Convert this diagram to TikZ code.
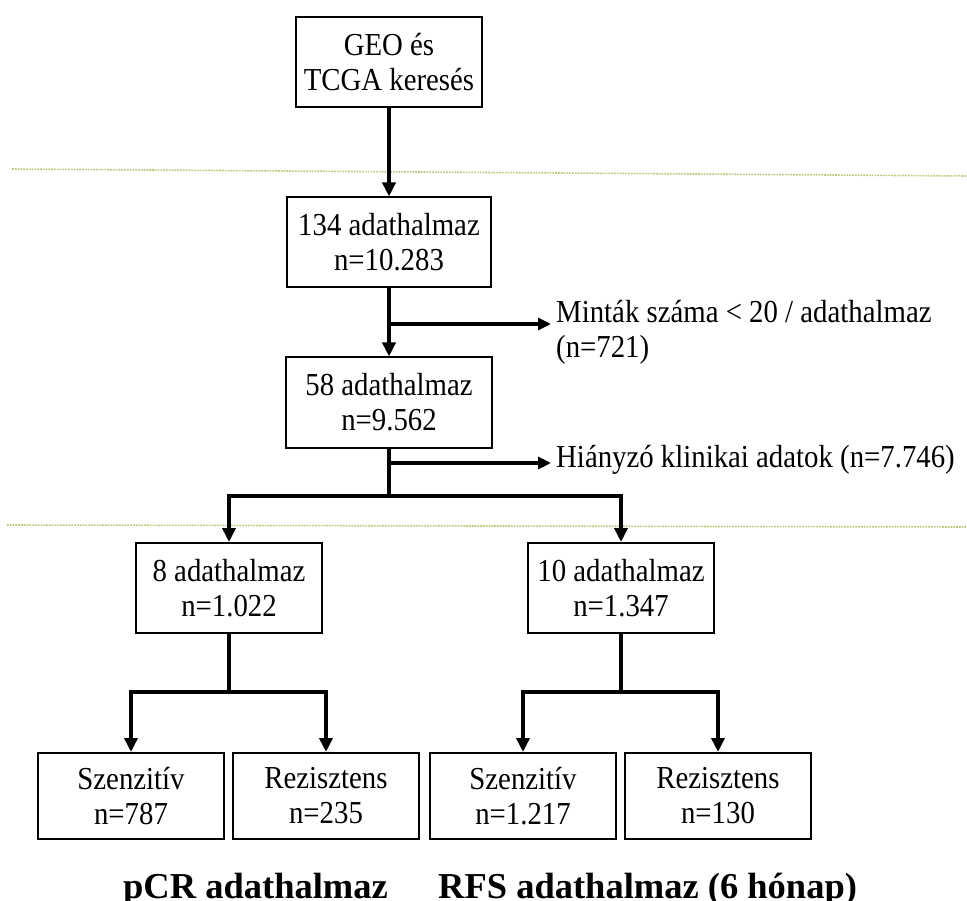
\documentclass[tikz,border=0pt]{standalone}
\usepackage{fontspec}
\setmainfont{Liberation Serif}[FakeStretch=0.9]
\newfontfamily\titlefont{Liberation Serif}
\usetikzlibrary{arrows.meta}
\definecolor{guidegreen}{RGB}{186,206,130}
\tikzset{
  box/.style={draw, line width=2pt, minimum width=186pt, minimum height=90pt,
    inner sep=0pt, align=center, font=\fontsize{32}{35}\selectfont},
  smallbox/.style={box, minimum height=86pt},
  note/.style={inner sep=0pt, align=left, font=\fontsize{32}{35}\selectfont},
  title/.style={inner sep=0pt, font=\titlefont\bfseries\fontsize{36.5}{40}\selectfont},
  conn/.style={line width=4pt},
  arr/.style={conn, -{Triangle[length=14pt,width=13pt]}},
  sidearr/.style={line width=3.2pt, -{Triangle[length=13pt,width=12pt]}},
  guide/.style={guidegreen, line width=1.6pt, dash pattern=on 1.8pt off 1pt}
}
\begin{document}
\begin{tikzpicture}[x=1pt, y=-1pt]
  \useasboundingbox (0,0) rectangle (967,901);

  % section separators
  \draw[guide] (12,169) -- (967,176);
  \draw[guide] (7,525) -- (967,527);

  % main chain
  \node[box] (geo) at (389,62) {GEO és\\TCGA keresés};
  \node[box, minimum width=204pt] (all) at (389,242.5) {134 adathalmaz\\n=10.283};
  \node[box, minimum width=206pt] (kept) at (389,402.5) {58 adathalmaz\\n=9.562};

  % the two branches
  \node[box] (pcr) at (229,588) {8 adathalmaz\\n=1.022};
  \node[box] (rfs) at (621,588) {10 adathalmaz\\n=1.347};

  % leaf boxes
  \node[smallbox] (pcrs) at (131,796) {Szenzitív\\n=787};
  \node[smallbox] (pcrr) at (326,796) {Rezisztens\\n=235};
  \node[smallbox] (rfss) at (523,796) {Szenzitív\\n=1.217};
  \node[smallbox] (rfsr) at (718,796) {Rezisztens\\n=130};

  % exclusion notes
  \node[note, anchor=west] (ex1) at (556,332) {Minták száma < 20 / adathalmaz\\(n=721)};
  \node[note, anchor=base west] (ex2) at (556,467) {Hiányzó klinikai adatok (n=7.746)};

  % junction points
  \coordinate (j1) at (389,324);
  \coordinate (j2) at (389,463);
  \coordinate (j3) at (389,496);
  \coordinate (j4) at (229,692);
  \coordinate (j5) at (621,692);

  % connectors
  \draw[arr] (geo.south) -- (all.north);
  \draw[arr] (all.south) -- (kept.north);
  \draw[sidearr] (j1) -- ([xshift=-5pt]j1 -| ex1.west);
  \draw[conn] (kept.south) -- (j3);
  \draw[sidearr] (j2) -- ([xshift=-5pt]j2 -| ex2.west);
  \draw[arr] (j3) -| (pcr.north);
  \draw[arr] (j3) -| (rfs.north);
  \draw[conn] (pcr.south) -- (j4);
  \draw[arr] (j4) -| (pcrs.north);
  \draw[arr] (j4) -| (pcrr.north);
  \draw[conn] (rfs.south) -- (j5);
  \draw[arr] (j5) -| (rfss.north);
  \draw[arr] (j5) -| (rfsr.north);

  % group titles
  \node[title, anchor=base west] (tpcr) at (123,898) {pCR adathalmaz};
  \node[title, anchor=base west] (trfs) at (438,898) {RFS adathalmaz (6 hónap)};
\end{tikzpicture}
\end{document}
